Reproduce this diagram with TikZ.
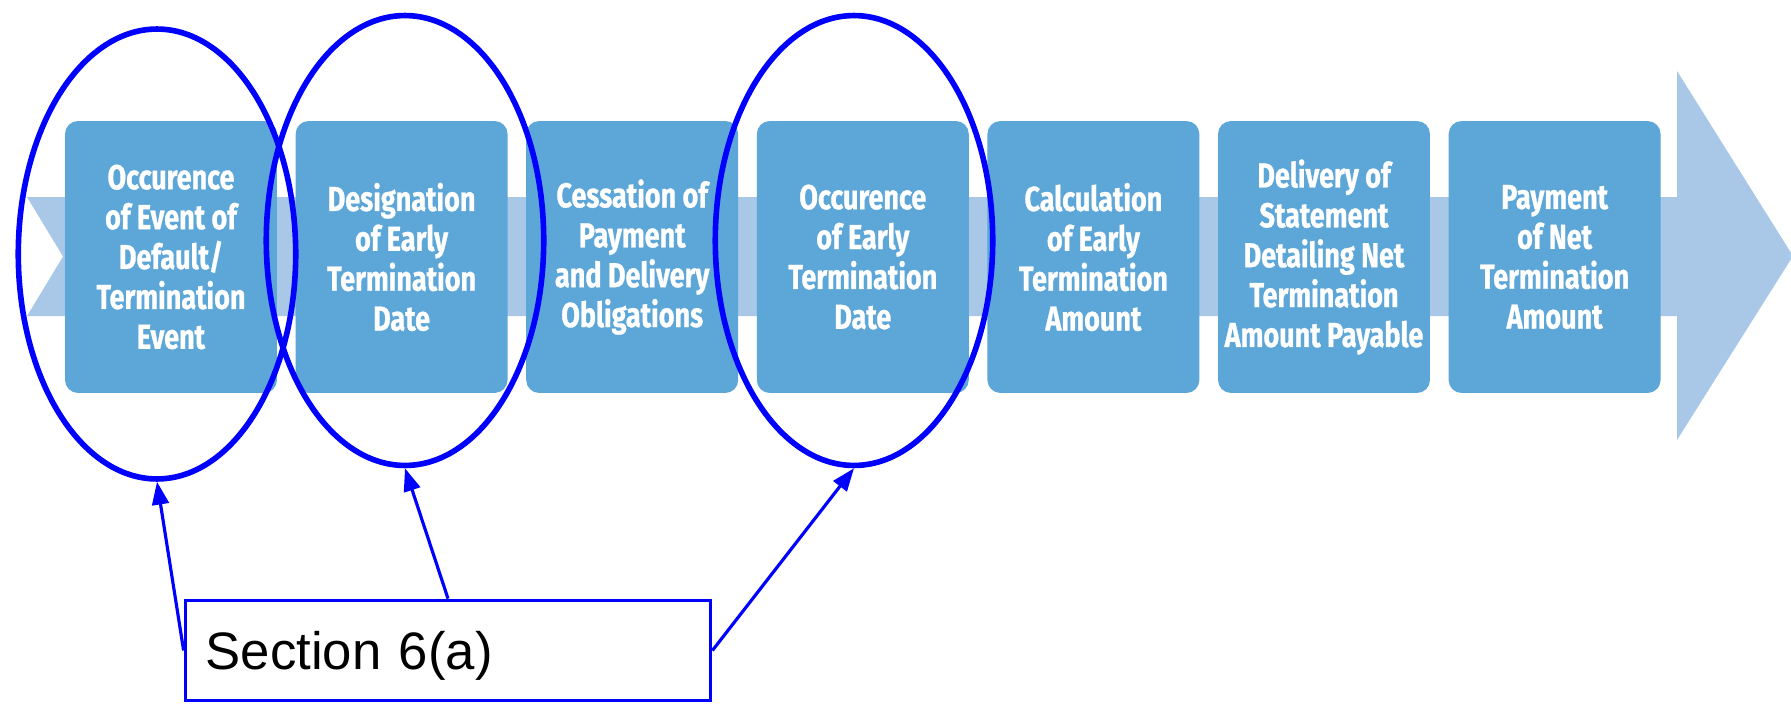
\documentclass[tikz,border=0pt]{standalone}
\usepackage{fontspec}
\setmainfont{Liberation Sans}
\newfontfamily\stepfont[FakeStretch=0.78,FakeBold=0.8]{Fira Sans}
\usetikzlibrary{arrows.meta,shapes.geometric}

\definecolor{stepblue}{RGB}{92,166,216}
\definecolor{bandblue}{RGB}{169,200,232}

\tikzset{
  stepbox/.style={rounded corners=0.26cm, fill=stepblue, minimum width=4.24cm,
    minimum height=5.44cm, inner sep=0pt, align=center, text=white,
    font=\stepfont\bfseries\fontsize{19.7}{22.7}\selectfont},
  ring/.style={ellipse, draw=blue, line width=3.2pt, minimum width=5.55cm,
    minimum height=9.0cm, inner sep=0pt},
  pointer/.style={draw=blue, line width=1.8pt, -{Triangle[length=13pt,width=9.5pt]}},
  notebox/.style={draw=blue, line width=2.2pt, minimum width=10.5cm,
    minimum height=2.0cm, inner xsep=0.4cm, text width=9.7cm, align=left,
    text depth=0pt, font=\fontsize{30}{36}\selectfont}
}

\begin{document}
\begin{tikzpicture}[x=0.02cm, y=-0.02cm]
  \useasboundingbox (0,0) rectangle (1791,703);

  % process band with notched tail and arrow head
  \fill[bandblue] (27,197) -- (1677,197) -- (1677,71) -- (1793,256)
    -- (1677,440) -- (1677,316) -- (27,316) -- (63,256.5) -- cycle;

  % process steps
  \node[stepbox] (s1) at (171,257)    {Occurence\\of Event of\\Default/\\Termination\\Event};
  \node[stepbox] (s2) at (401.6,257)  {Designation\\of Early\\Termination\\Date};
  \node[stepbox] (s3) at (632.2,257)  {Cessation of\\Payment\\and Delivery\\Obligations};
  \node[stepbox] (s4) at (862.8,257)  {Occurence\\of Early\\Termination\\Date};
  \node[stepbox] (s5) at (1093.4,257) {Calculation\\of Early\\Termination\\Amount};
  \node[stepbox] (s6) at (1324,257)   {Delivery of\\Statement\\Detailing Net\\Termination\\Amount Payable};
  \node[stepbox] (s7) at (1554.6,257) {Payment\\of Net\\Termination\\Amount};

  % highlighted steps
  \node[ring] (o1) at (157,254) {};
  \node[ring] (o2) at (405,240.5) {};
  \node[ring] (o3) at (854,240.5) {};

  % annotation
  \node[notebox] (note) at (448,650.5) {Section 6(a)};

  \draw[pointer] (note.west) -- (o1.south);
  \draw[pointer] (note.north) -- (o2.south);
  \draw[pointer] (note.east) -- (o3.south);
\end{tikzpicture}
\end{document}
